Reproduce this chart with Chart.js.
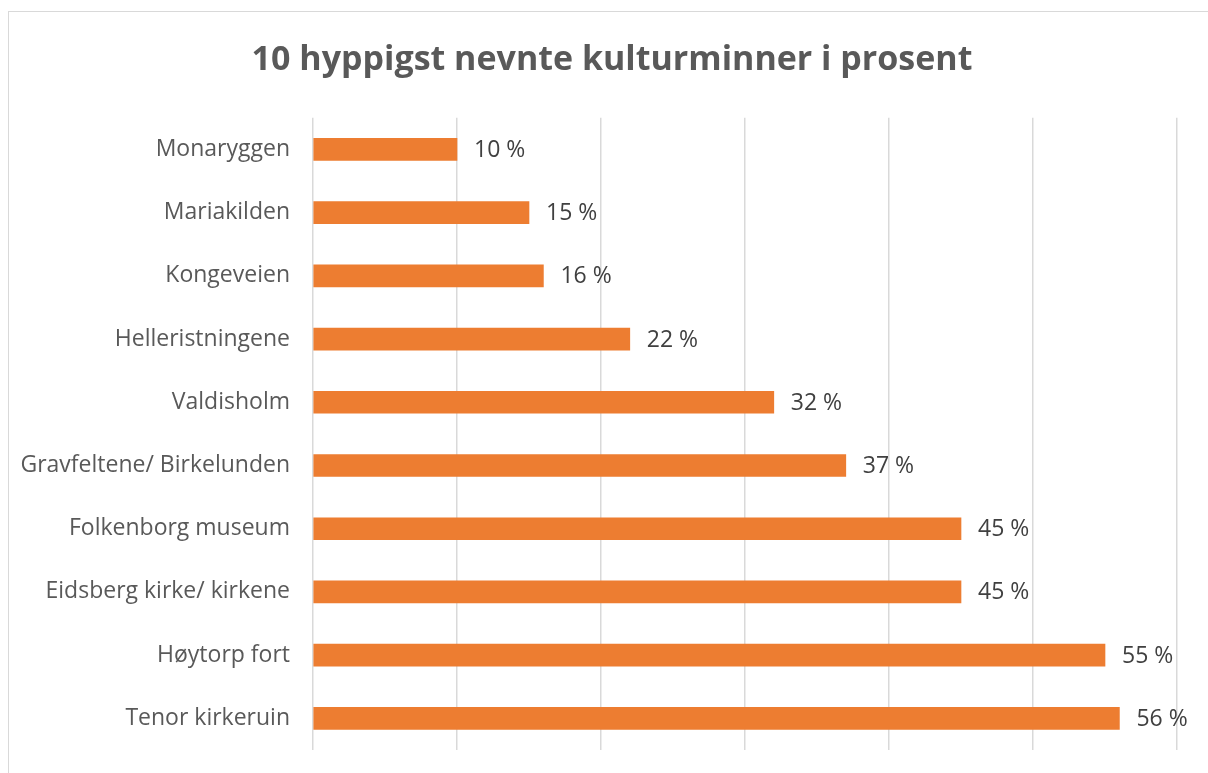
<!DOCTYPE html>
<html>
    <head>
        <title>10 hyppigst nevnte kulturminner i prosent</title>
        <script src="https://cdn.jsdelivr.net/npm/chart.js"></script>
        <style>
         body {
            margin: 0;
            background: white;
         }
         #wrap {
            position: relative;
            width: 1208px;
            height: 773px;
         }
         #frame {
            position: absolute;
            left: 8px;
            top: 11px;
            width: 1220px;
            height: 800px;
            border: 1px solid #d9d9d9;
            pointer-events: none;
         }
        </style>
    </head>
    <body>
        <div id="wrap">
            <canvas id="barChart" width="1208" height="773"></canvas>
            <div id="frame"></div>
        </div>
        <script>
        const places = [
            "Monaryggen", "Mariakilden", "Kongeveien", "Helleristningene", "Valdisholm",
            "Gravfeltene/ Birkelunden", "Folkenborg museum", "Eidsberg kirke/ kirkene",
            "Høytorp fort", "Tenor kirkeruin"
        ];
        const percents = [10, 15, 16, 22, 32, 37, 45, 45, 55, 56];
        const axisMin = 0;
        const axisMax = 60;

        // writes "NN %" right of each bar
        const barLabels = {
            id: 'barLabels',
            afterDatasetsDraw(chart) {
                const ctx = chart.ctx;
                const meta = chart.getDatasetMeta(0);
                ctx.save();
                ctx.font = '23px "Open Sans"';
                ctx.fillStyle = '#404040';
                ctx.textBaseline = 'middle';
                ctx.textAlign = 'left';
                meta.data.forEach((bar, i) => {
                    ctx.fillText(percents[i] + ' %', bar.x + 17, bar.y + 1);
                });
                ctx.restore();
            }
        };

        const leftPad = 16;

        const ctx = document.getElementById('barChart').getContext('2d');
        new Chart(ctx, {
            type: 'bar',
            data: {
                labels: places,
                datasets: [{
                    data: percents,
                    backgroundColor: '#ED7D31',
                    borderWidth: 0,
                    barThickness: 22
                }]
            },
            options: {
                indexAxis: 'y',
                responsive: false,
                animation: false,
                layout: {
                    padding: { left: leftPad, right: 0, top: 0, bottom: 23 }
                },
                plugins: {
                    legend: { display: false },
                    tooltip: { enabled: false },
                    title: {
                        display: true,
                        text: '10 hyppigst nevnte kulturminner i prosent',
                        color: '#595959',
                        font: { family: '"Open Sans"', size: 34, weight: 'bold' },
                        padding: { top: 40, bottom: 37 }
                    }
                },
                scales: {
                    x: {
                        min: axisMin,
                        max: axisMax,
                        afterFit(scale) { scale.height = 0; },
                        ticks: { display: false, stepSize: 10 },
                        grid: { color: '#d9d9d9', lineWidth: 1.5, drawTicks: false },
                        border: { display: false }
                    },
                    y: {
                        afterFit(scale) {
                            scale.width = 313 - leftPad;
                            scale.paddingTop = 0;
                            scale.paddingBottom = 0;
                        },
                        ticks: {
                            color: '#595959',
                            font: { family: '"Open Sans"', size: 23 },
                            padding: 15
                        },
                        grid: { display: false },
                        border: { display: false }
                    },
                    // empty strip on the right so the plot ends at 60 %
                    spacer: {
                        type: 'linear',
                        position: 'right',
                        afterFit(scale) {
                            scale.width = 31;
                            scale.paddingTop = 0;
                            scale.paddingBottom = 0;
                        },
                        ticks: { display: false },
                        grid: { display: false },
                        border: { display: false }
                    }
                }
            },
            plugins: [barLabels]
        });
        </script>
    </body>
</html>
